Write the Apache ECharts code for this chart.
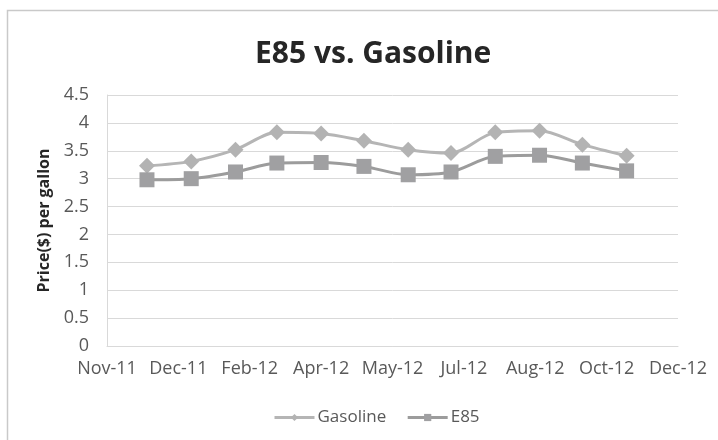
<!DOCTYPE html>
<html>
<head>
<meta charset="utf-8">
<script src="https://cdn.jsdelivr.net/npm/echarts@6/dist/echarts.min.js"></script>
<style>
html,body{margin:0;padding:0;background:#fff;}
#c{width:718px;height:440px;}
</style>
</head>
<body>
<div id="c"></div>
<script>
var dates = ["2011-12-01","2012-01-01","2012-02-01","2012-03-01","2012-04-01","2012-05-01","2012-06-01","2012-07-01","2012-08-01","2012-09-01","2012-10-01","2012-11-01"];
var gasoline = [3.23, 3.31, 3.52, 3.83, 3.81, 3.68, 3.52, 3.46, 3.83, 3.86, 3.61, 3.41];
var e85 = [2.98, 3.00, 3.12, 3.28, 3.29, 3.22, 3.07, 3.12, 3.40, 3.42, 3.28, 3.14];
var xMinDate = "2011-11-03", xMaxDate = "2012-12-07", xStepDays = 50;
var yTicks = [0, 0.5, 1, 1.5, 2, 2.5, 3, 3.5, 4, 4.5];

var MONTHS = ["Jan","Feb","Mar","Apr","May","Jun","Jul","Aug","Sep","Oct","Nov","Dec"];
var EPOCH = Date.UTC(1899, 11, 30);
function serial(s){ var p = s.split("-"); return Math.round((Date.UTC(+p[0], +p[1]-1, +p[2]) - EPOCH)/86400000); }
function fmt(v){ var d = new Date(EPOCH + v*86400000); return MONTHS[d.getUTCMonth()] + "-" + String(d.getUTCFullYear()).slice(2); }

var font = "'Open Sans', sans-serif";
var chart = echarts.init(document.getElementById('c'), null, {renderer:'canvas'});
chart.setOption({
  animation:false,
  backgroundColor:'#fff',
  graphic:[{type:'rect', shape:{x:7.5,y:10.5,width:800,height:600}, style:{fill:'none', stroke:'#c9c9c9', lineWidth:1.5}, silent:true}],
  title:{text:'E85 vs. Gasoline', left:250, top:34, textStyle:{fontFamily:font, fontSize:30, fontWeight:'bold', color:'#262626'}},
  grid:{left:107, right:40, top:95, bottom:94},
  legend:{top:404, left:268, itemWidth:40, itemHeight:9, itemGap:20,
    textStyle:{fontFamily:font, fontSize:17, color:'#595959', padding:[0,0,0,-2]},
    lineStyle:{width:3},
    data:['Gasoline','E85']},
  xAxis:{type:'value', min:serial(xMinDate), max:serial(xMaxDate), interval:xStepDays,
    axisLine:{show:true, lineStyle:{color:'#d9d9d9', width:1}}, axisTick:{show:false},
    splitLine:{show:false},
    axisLabel:{formatter:function(v){return fmt(v);}, fontFamily:font, fontSize:18, color:'#595959', margin:14, showMinLabel:true, showMaxLabel:true, hideOverlap:false}},
  yAxis:{type:'value', min:yTicks[0], max:yTicks[yTicks.length-1], interval:yTicks[1]-yTicks[0],
    name:'Price($) per gallon', nameLocation:'middle', nameGap:51, nameRotate:90,
    nameTextStyle:{fontFamily:font, fontSize:16, fontWeight:'bold', color:'#262626'},
    axisLine:{show:true, lineStyle:{color:'#d9d9d9', width:1}}, axisTick:{show:false},
    splitLine:{lineStyle:{color:'#d9d9d9', width:1}},
    axisLabel:{fontFamily:font, fontSize:18, color:'#595959', margin:18}},
  series:[
    {name:'Gasoline', type:'line', smooth:0.3, symbol:'diamond', symbolSize:16,
     data:dates.map(function(d,i){return [serial(d), gasoline[i]];}),
     lineStyle:{color:'#b5b5b5', width:3}, itemStyle:{color:'#b3b3b3'}},
    {name:'E85', type:'line', smooth:0.3, symbol:'rect', symbolSize:15,
     data:dates.map(function(d,i){return [serial(d), e85[i]];}),
     lineStyle:{color:'#9c9c9c', width:3}, itemStyle:{color:'#a0a0a2'}}
  ]
});
</script>
</body>
</html>
